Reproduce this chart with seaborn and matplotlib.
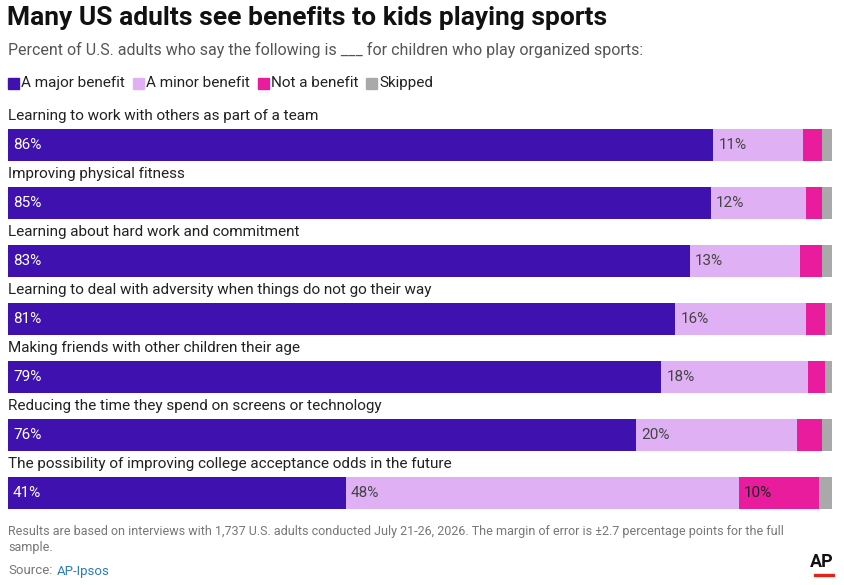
import matplotlib
matplotlib.use("Agg")
import matplotlib.pyplot as plt
import seaborn as sns
import pandas as pd
import numpy as np

items = ["Learning to work with others as part of a team",
         "Improving physical fitness",
         "Learning about hard work and commitment",
         "Learning to deal with adversity when things do not go their way",
         "Making friends with other children their age",
         "Reducing the time they spend on screens or technology",
         "The possibility of improving college acceptance odds in the future"]
major = [85.6, 85.3, 82.8, 81.0, 79.3, 76.2, 41.0]
minor = [10.9, 11.5, 13.3, 15.8, 17.8, 19.6, 47.7]
notben = [2.3, 2.0, 2.7, 2.3, 2.0, 3.0, 9.7]
skipped = [1.2, 1.2, 1.2, 0.9, 0.9, 1.2, 1.6]
major_lbl = ["86%", "85%", "83%", "81%", "79%", "76%", "41%"]
minor_lbl = ["11%", "12%", "13%", "16%", "18%", "20%", "48%"]
not_lbl = ["", "", "", "", "", "", "10%"]
series = ["A major benefit", "A minor benefit", "Not a benefit", "Skipped"]
colors = ["#3f12b0", "#e0b0f5", "#e81c9c", "#a9a9a9"]

sns.set_theme(style="white")
plt.rcParams['font.family'] = ['Roboto', 'DejaVu Sans']

W, H = 845, 585
fig = plt.figure(figsize=(W / 100, H / 100), dpi=100)
ax = fig.add_axes([8 / W, 1 - 522 / H, 824 / W, 406 / H])

df = pd.DataFrame({"item": items, "major": major, "minor": minor,
                   "not": notben, "skip": skipped})
cum = np.cumsum(df[["major", "minor", "not", "skip"]].values, axis=1)
for k in range(3, -1, -1):
    sns.barplot(x=cum[:, k], y=list(range(len(items))), orient="h",
                color=colors[k], saturation=1, width=0.55, ax=ax,
                order=list(range(len(items))), linewidth=0)

ax.set_xlim(0, 100)
ax.set_ylim(6.5, -0.5)
ax.axis("off")

for i, name in enumerate(items):
    ax.text(0, i - 0.5, name, fontsize=11, color="#222222", va="center", ha="left")
    ax.text(0.6, i, major_lbl[i], fontsize=11, color="white", va="center")
    ax.text(major[i] + 0.6, i, minor_lbl[i], fontsize=11, color="#444444", va="center")
    if not_lbl[i]:
        ax.text(major[i] + minor[i] + 0.6, i, not_lbl[i], fontsize=11,
                color="#222222", va="center")

fig.text(7 / W, 1 - 18 / H, "Many US adults see benefits to kids playing sports",
         fontsize=19, fontweight="bold", color="#111111", va="center")
fig.text(8 / W, 1 - 50 / H,
         "Percent of U.S. adults who say the following is ___ for children who play organized sports:",
         fontsize=11.5, color="#555555", va="center")
x = 8
for s, c in zip(series, colors):
    fig.patches.append(plt.Rectangle((x / W, 1 - 89 / H), 11 / W, 11 / H,
                                     transform=fig.transFigure, color=c))
    t = fig.text((x + 13) / W, 1 - 83 / H, s, fontsize=11, color="#222222", va="center")
    fig.canvas.draw()
    bb = t.get_window_extent()
    x = bb.x1 + 8

fig.text(8 / W, 1 - 531 / H,
         "Results are based on interviews with 1,737 U.S. adults conducted July 21-26, 2026. The margin of error is \u00b12.7 percentage points for the full",
         fontsize=9, color="#777777", va="center")
fig.text(8 / W, 1 - 548 / H, "sample.", fontsize=9, color="#777777", va="center")
src = fig.text(8 / W, 1 - 571 / H, "Source:", fontsize=9.5, color="#777777", va="center")
fig.canvas.draw()
bb = src.get_window_extent()
fig.text((bb.x1 + 4) / W, 1 - 571 / H, "AP-Ipsos", fontsize=9.5, color="#2a7bbf", va="center")
fig.text(834 / W, 1 - 562 / H, "AP", fontsize=13, fontweight="bold", color="#111111",
         va="center", ha="right")
fig.patches.append(plt.Rectangle((814 / W, 1 - 576 / H), 20 / W, 2.5 / H,
                                 transform=fig.transFigure, color="#e2231a"))

fig.savefig("out.png", dpi=100)
